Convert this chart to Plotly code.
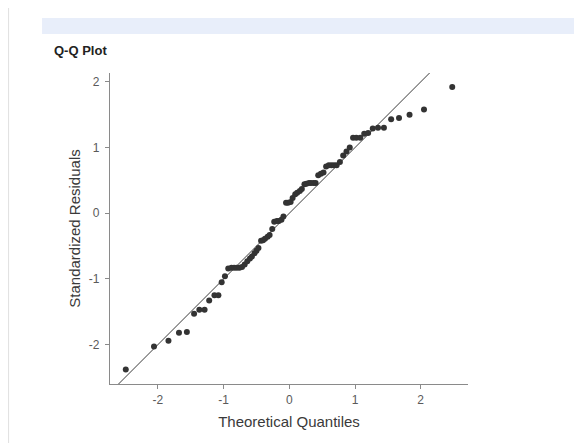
import plotly.graph_objects as go

# Theoretical quantiles and standardized residuals
theoretical = [-2.49, -2.06, -1.84, -1.68, -1.56, -1.45, -1.37, -1.29, -1.22, -1.14,
               -1.08, -1.03, -0.98, -0.93, -0.88, -0.84, -0.80, -0.76, -0.72, -0.68,
               -0.64, -0.60, -0.57, -0.53, -0.50, -0.47, -0.43, -0.40, -0.37, -0.33,
               -0.30, -0.26, -0.23, -0.19, -0.16, -0.12, -0.09, -0.05, -0.02, 0.02,
               0.05, 0.09, 0.12, 0.16, 0.19, 0.23, 0.26, 0.30, 0.33, 0.37,
               0.40, 0.44, 0.48, 0.52, 0.56, 0.60, 0.64, 0.68, 0.72, 0.77,
               0.82, 0.87, 0.92, 0.97, 1.02, 1.08, 1.14, 1.20, 1.27, 1.35,
               1.44, 1.55, 1.67, 1.83, 2.05, 2.48]
residuals = [-2.38, -2.03, -1.94, -1.82, -1.81, -1.53, -1.47, -1.47, -1.33, -1.25,
             -1.25, -1.05, -0.96, -0.84, -0.83, -0.83, -0.83, -0.83, -0.82, -0.78,
             -0.73, -0.69, -0.66, -0.61, -0.57, -0.53, -0.42, -0.41, -0.39, -0.36,
             -0.33, -0.24, -0.13, -0.12, -0.12, -0.10, -0.05, 0.16, 0.16, 0.17,
             0.23, 0.29, 0.31, 0.34, 0.37, 0.44, 0.45, 0.46, 0.46, 0.46,
             0.46, 0.58, 0.60, 0.62, 0.71, 0.73, 0.73, 0.73, 0.73, 0.78,
             0.88, 0.94, 1.00, 1.15, 1.15, 1.15, 1.21, 1.22, 1.29, 1.30,
             1.30, 1.43, 1.45, 1.50, 1.58, 1.92]
x_ticks = [-2, -1, 0, 1, 2]
y_ticks = [-2, -1, 0, 1, 2]
x_range = [-2.73, 2.72]
y_range = [-2.60, 2.135]

# page body has an 8px margin; figure sized to fill the rest of the window
OFF = 8
W, H = 582 - OFF, 443 - OFF
ml = 110 - OFF
mt = 73 - OFF
mr = W - (468.3 - OFF)
mb = H - (384 - OFF)
pw, ph = W - ml - mr, H - mt - mb

def px_x(p):
    return (p - OFF - ml) / pw

def px_y(p):
    return (H - mb - (p - OFF)) / ph

fig = go.Figure()
fig.add_trace(go.Scatter(
    x=[x_range[0] - 1, x_range[1] + 1], y=[x_range[0] - 1, x_range[1] + 1],
    mode="lines", line=dict(color="#3a3a3a", width=1), hoverinfo="skip",
    showlegend=False))
fig.add_trace(go.Scatter(
    x=theoretical, y=residuals, mode="markers",
    marker=dict(color="#333333", size=6, line=dict(width=0)),
    showlegend=False))

axis_common = dict(
    showgrid=False, zeroline=False, showline=True, linecolor="#8a8a8a",
    linewidth=1.3, ticks="outside", ticklen=4, tickcolor="#8a8a8a",
    tickwidth=1.3, tickfont=dict(family="Liberation Sans, Arial", size=12, color="#5a5a5a"),
    title_font=dict(family="Liberation Sans, Arial", size=15, color="#3a3a3a"),
)
fig.update_xaxes(range=x_range, tickvals=x_ticks, ticktext=[str(t) for t in x_ticks],
                 title_text="Theoretical Quantiles", title_standoff=10, **axis_common)
fig.update_yaxes(range=y_range, tickvals=y_ticks, ticktext=[str(t) for t in y_ticks],
                 title_text="Standardized Residuals", title_standoff=4,
                 ticklabelstandoff=3, **axis_common)

fig.update_layout(
    width=W, height=H,
    margin=dict(l=ml, r=mr, t=mt, b=mb, autoexpand=False),
    paper_bgcolor="white", plot_bgcolor="white",
    shapes=[
        dict(type="rect", xref="paper", yref="paper",
             x0=px_x(42), x1=px_x(600), y0=px_y(34), y1=px_y(18),
             fillcolor="#e8eefa", line=dict(width=0), layer="below"),
        dict(type="line", xref="paper", yref="paper",
             x0=px_x(8), x1=px_x(8), y0=px_y(8), y1=px_y(460),
             line=dict(color="#e2e2e2", width=2)),
    ],
    annotations=[
        dict(text="<b>Q-Q Plot</b>", xref="paper", yref="paper",
             x=px_x(52), y=px_y(50), xanchor="left", yanchor="middle",
             showarrow=False, font=dict(family="Liberation Sans, Arial", size=13, color="#222222")),
    ],
)

fig.write_html("out.html")
